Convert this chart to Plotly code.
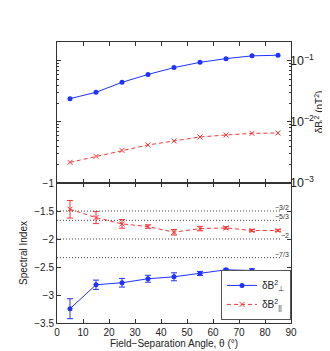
import plotly.graph_objects as go

# --- data ---
theta = [5, 15, 25, 35, 45, 55, 65, 75, 85]

power_perp = [0.0241, 0.0306, 0.0446, 0.060, 0.0777, 0.0948, 0.109, 0.121, 0.124]
power_par = [0.00218, 0.00273, 0.00342, 0.0042, 0.00489, 0.00568, 0.00612, 0.0065, 0.0066]

index_perp = [-3.245, -2.817, -2.781, -2.71, -2.675, -2.615, -2.55, -2.562, -2.639]
index_perp_err = [0.178, 0.083, 0.077, 0.062, 0.071, 0.036, 0.015, 0.03, 0.015]
index_par = [-1.469, -1.618, -1.730, -1.778, -1.879, -1.814, -1.802, -1.849, -1.849]
index_par_err = [0.157, 0.107, 0.077, 0.03, 0.05, 0.04, 0.02, 0.02, 0.015]

ref_values = [-3 / 2, -5 / 3, -2, -7 / 3]
ref_labels = ["\u22123/2", "\u22125/3", "\u22122", "\u22127/3"]

BLUE = "#1f32ff"
RED = "#ff3333"
FONT = "Liberation Sans, Arial, sans-serif"

fig = go.Figure()

# top panel: power
fig.add_trace(go.Scatter(x=theta, y=power_perp, mode="lines+markers", showlegend=False,
                         line=dict(color=BLUE, width=1), marker=dict(symbol="circle", size=5, color=BLUE),
                         xaxis="x", yaxis="y"))
fig.add_trace(go.Scatter(x=theta, y=power_par, mode="lines+markers", showlegend=False,
                         line=dict(color=RED, width=1, dash="4px,3px"),
                         marker=dict(symbol="x-thin", size=5, color=RED, line=dict(color=RED, width=1)),
                         xaxis="x", yaxis="y"))

# bottom panel: spectral index
fig.add_trace(go.Scatter(x=theta, y=index_perp, mode="lines+markers",
                         name="\u03b4B<sup>2</sup><sub>\u22a5</sub>",
                         error_y=dict(type="data", array=index_perp_err, color=BLUE, thickness=1, width=3),
                         line=dict(color=BLUE, width=1), marker=dict(symbol="circle", size=5, color=BLUE),
                         xaxis="x2", yaxis="y2"))
fig.add_trace(go.Scatter(x=theta, y=index_par, mode="lines+markers",
                         name="\u03b4B<sup>2</sup><sub>||</sub>",
                         error_y=dict(type="data", array=index_par_err, color=RED, thickness=1, width=3),
                         line=dict(color=RED, width=1, dash="4px,3px"),
                         marker=dict(symbol="x-thin", size=5, color=RED, line=dict(color=RED, width=1)),
                         xaxis="x2", yaxis="y2"))

# reference slopes
for val, lab in zip(ref_values, ref_labels):
    fig.add_shape(type="line", xref="x2", yref="y2", x0=0, x1=86.5, y0=val, y1=val,
                  line=dict(color="#444444", width=1, dash="1px,2px"))
    fig.add_annotation(xref="x2", yref="y2", x=90, y=val, text=lab, showarrow=False,
                       xanchor="right", yanchor="bottom", yshift=-2, font=dict(size=7, color="#333333"))

# right-hand axis title of the top panel
fig.add_annotation(xref="paper", yref="paper", x=1.12, y=0.75, textangle=-90, showarrow=False,
                   text="\u03b4B<sub>i</sub><sup>2</sup> (nT<sup>2</sup>)", font=dict(size=10),
                   xanchor="center", yanchor="middle")

axis_common = dict(showgrid=False, zeroline=False, showline=True, linecolor="#333333", linewidth=1,
                   ticks="inside", ticklen=4, tickcolor="#333333", mirror="ticks",
                   tickfont=dict(size=10, color="#222222"))

split = 140 / 281

fig.update_layout(
    width=330, height=351,
    margin=dict(l=49, r=47, t=34, b=36),
    paper_bgcolor="white", plot_bgcolor="white",
    font=dict(family=FONT, size=10, color="#222222"),
    xaxis=dict(axis_common, range=[0, 90], dtick=10, showticklabels=False, anchor="y", domain=[0, 1]),
    yaxis=dict(axis_common, type="log", range=[-3, -0.69], dtick=1, side="right",
               exponentformat="power", anchor="x", domain=[split, 1], ticklabelstandoff=-4,
               minor=dict(ticks="inside", ticklen=2, tickcolor="#333333", dtick="D1")),
    xaxis2=dict(axis_common, range=[0, 90], dtick=10, anchor="y2", domain=[0, 1],
                title=dict(text="Field\u2212Separation Angle, \u03b8 (\u00b0)", font=dict(size=10), standoff=2)),
    yaxis2=dict(axis_common, range=[-3.5, -1], dtick=0.5, anchor="x2", domain=[0, split],
                title=dict(text="Spectral Index", font=dict(size=10), standoff=4)),
    legend=dict(x=1, y=0.011, xanchor="right", yanchor="bottom", bgcolor="white",
                bordercolor="#555555", borderwidth=1, font=dict(size=10), tracegroupgap=2,
                itemwidth=30),
)

fig.write_html("out.html")
